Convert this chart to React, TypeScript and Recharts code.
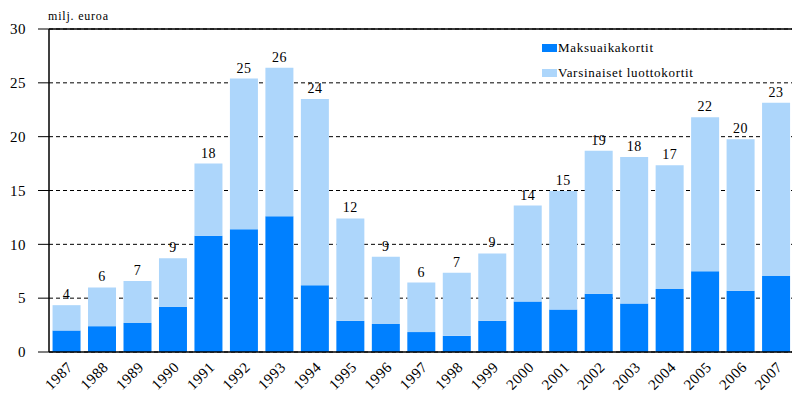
import { BarChart, Bar, XAxis, YAxis, CartesianGrid, Legend, LabelList, ReferenceLine, Label } from "recharts";

const years = ["1987", "1988", "1989", "1990", "1991", "1992", "1993", "1994", "1995", "1996", "1997", "1998", "1999", "2000", "2001", "2002", "2003", "2004", "2005", "2006", "2007"];
const maksuaikakortit = [2.0, 2.4, 2.7, 4.2, 10.8, 11.4, 12.6, 6.2, 2.9, 2.6, 1.85, 1.5, 2.9, 4.7, 3.95, 5.4, 4.5, 5.85, 7.5, 5.7, 7.05];
const luottokortit = [2.35, 3.6, 3.9, 4.5, 6.7, 14.0, 13.8, 17.3, 9.5, 6.25, 4.6, 5.85, 6.25, 8.9, 11.0, 13.3, 13.6, 11.5, 14.3, 14.05, 16.1];
const totals = [4, 6, 7, 9, 18, 25, 26, 24, 12, 9, 6, 7, 9, 14, 15, 19, 18, 17, 22, 20, 23];
const yTicks = [0, 5, 10, 15, 20, 25, 30];

const data = years.map((year, i) => ({
  year,
  maksu: maksuaikakortit[i],
  luotto: luottokortit[i],
  total: totals[i],
}));

const font = "Liberation Serif, DejaVu Serif, serif";

const YearTick = (props: any) => {
  const { x, y, payload } = props;
  const tx = x + 7;
  const ty = y + 14;
  return (
    <text
      x={tx}
      y={ty}
      transform={`rotate(-45 ${tx} ${ty})`}
      textAnchor="end"
      style={{ fontFamily: font, fontSize: 15, letterSpacing: 0.5 }}
      fill="#000"
    >
      {payload.value}
    </text>
  );
};

const LegendBox = (props: any) => {
  const items = props.payload || [];
  return (
    <div style={{ fontFamily: font, fontSize: 13, letterSpacing: 0.7, color: "#000" }}>
      {items.map((item: any) => (
        <div key={item.value} style={{ display: "flex", alignItems: "center", height: 25 }}>
          <span style={{ display: "inline-block", width: 15, height: 8, background: item.color, marginRight: 1 }} />
          <span>{item.value}</span>
        </div>
      ))}
    </div>
  );
};

const App = () => {
  return (
    <div style={{ position: "absolute", left: 0, top: 0, width: 792, height: 404, background: "#fff" }}>
      <BarChart
        width={792}
        height={404}
        data={data}
        margin={{ top: 29, right: -2, bottom: 0, left: 0 }}
        barCategoryGap="10%"
      >
        <CartesianGrid vertical={false} stroke="#000" strokeDasharray="4 3" />
        <XAxis
          dataKey="year"
          height={52}
          interval={0}
          tickLine={false}
          tickSize={0}
          tick={<YearTick />}
          axisLine={{ stroke: "#000", strokeWidth: 1.5 }}
        />
        <YAxis
          width={49}
          domain={[0, 30]}
          ticks={yTicks}
          interval={0}
          tickSize={11}
          tickMargin={12}
          tickLine={{ stroke: "#000" }}
          axisLine={{ stroke: "#000", strokeWidth: 1.5 }}
          tick={{ fill: "#000", style: { fontFamily: font, fontSize: 15, letterSpacing: 0.5 } }}
        >
          <Label
            content={() => (
              <text x={48} y={20} style={{ fontFamily: font, fontSize: 12, letterSpacing: 0.8 }} fill="#000">
                milj. euroa
              </text>
            )}
          />
        </YAxis>
        <ReferenceLine y={30} stroke="#000" strokeWidth={1.5} />
        <Legend
          layout="horizontal"
          verticalAlign="middle"
          align="center"
          content={<LegendBox />}
          wrapperStyle={{ position: "absolute", left: 542, top: 35, width: 200 }}
        />
        <Bar dataKey="maksu" name="Maksuaikakortit" stackId="a" fill="#0080FF" isAnimationActive={false} />
        <Bar dataKey="luotto" name="Varsinaiset luottokortit" stackId="a" fill="#ADD6FB" isAnimationActive={false}>
          <LabelList
            dataKey="total"
            position="top"
            offset={6}
            fill="#000"
            style={{ fontFamily: font, fontSize: 14, letterSpacing: 0.5 }}
          />
        </Bar>
      </BarChart>
    </div>
  );
};

export default App;
